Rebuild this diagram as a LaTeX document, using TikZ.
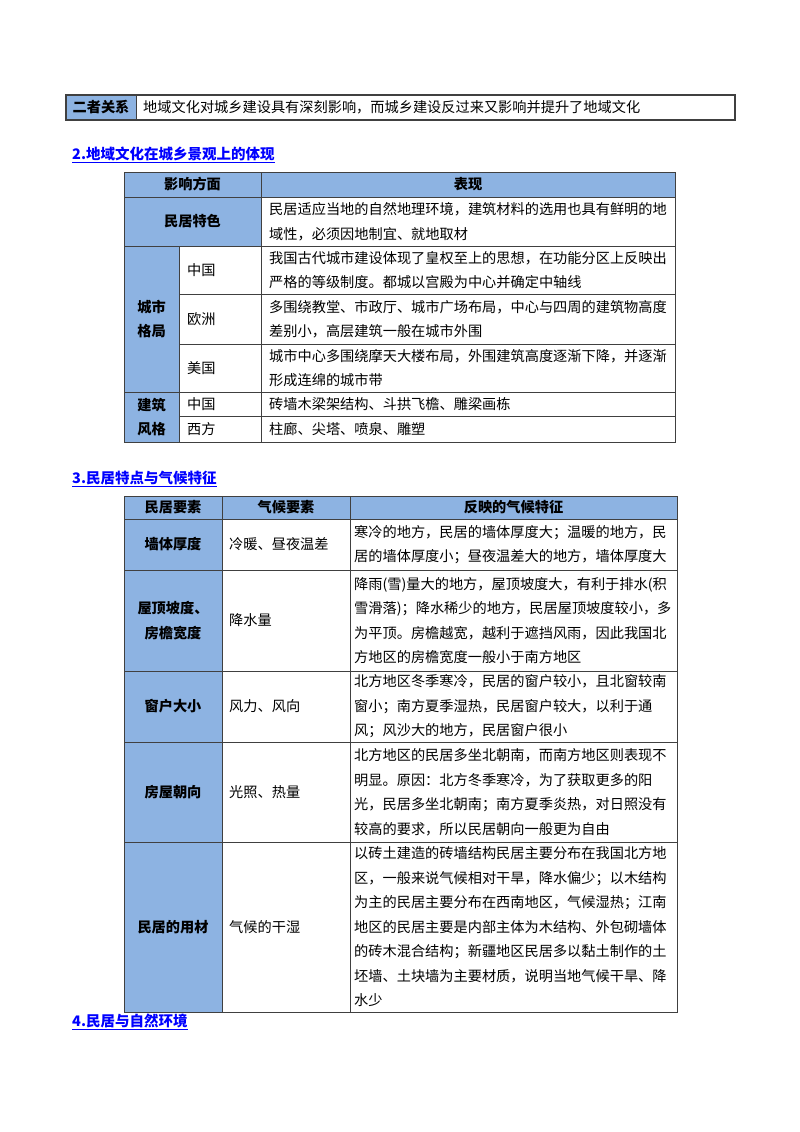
\documentclass[tikz,border=0pt]{standalone}
\usepackage{fontspec}
\setmainfont{Noto Sans CJK SC}
\definecolor{hb}{HTML}{8DB3E2}
\definecolor{ln}{HTML}{0000FF}
\begin{document}
\begin{tikzpicture}[x=1pt,y=-1pt,
  cl/.style={draw=black!75,line width=0.9pt},
  tx/.style={anchor=west,align=left,inner sep=0pt,font=\fontsize{14.2}{24.5}\selectfont},
  hd/.style={align=center,inner sep=0pt,font=\fontsize{14.2}{24.5}\selectfont\bfseries},
  ttl/.style={anchor=west,inner sep=0pt,text=ln,font=\fontsize{14.5}{18}\selectfont\bfseries}]
\useasboundingbox (0,0) rectangle (800,1132);
% table 1
\fill[hb] (66,95) rectangle (136,120);
\draw[cl,line width=1.2pt] (66,95) rectangle (735,120);
\draw[cl] (136,95) -- (136,120);
\node[hd] (t1a) at (101,107.5) {二者关系};
\node[tx] (t1b) at (143,107.5) {地域文化对城乡建设具有深刻影响，而城乡建设反过来又影响并提升了地域文化};
% heading 2
\node[ttl] (h2) at (72,155) {\underline{2.地域文化在城乡景观上的体现}};
% table 2
\fill[hb] (124,172) rectangle (675,197);
\fill[hb] (124,197) rectangle (261,246);
\fill[hb] (124,246) rectangle (179,442);
\draw[cl] (124,172) rectangle (675,442);
\draw[cl] (261,172) -- (261,442);
\draw[cl] (179,246) -- (179,442);
\draw[cl] (124,197) -- (675,197);
\draw[cl] (124,246) -- (675,246);
\draw[cl] (179,294) -- (675,294);
\draw[cl] (179,344) -- (675,344);
\draw[cl] (124,392) -- (675,392);
\draw[cl] (179,416) -- (675,416);
\node[hd] (a1) at (192.5,184.5) {影响方面};
\node[hd] (a2) at (468,184.5) {表现};
\node[hd] (a3) at (192.5,221.5) {民居特色};
\node[tx] (a4) at (269,221.5) {民居适应当地的自然地理环境，建筑材料的选用也具有鲜明的地\\域性，必须因地制宜、就地取材};
\node[hd] (a5) at (151.5,319) {城市\\格局};
\node[tx] (a6) at (187,270) {中国};
\node[tx] (a7) at (269,270) {我国古代城市建设体现了皇权至上的思想，在功能分区上反映出\\严格的等级制度。都城以宫殿为中心并确定中轴线};
\node[tx] (a8) at (187,319) {欧洲};
\node[tx] (a9) at (269,319) {多围绕教堂、市政厅、城市广场布局，中心与四周的建筑物高度\\差别小，高层建筑一般在城市外围};
\node[tx] (a10) at (187,368) {美国};
\node[tx] (a11) at (269,368) {城市中心多围绕摩天大楼布局，外围建筑高度逐渐下降，并逐渐\\形成连绵的城市带};
\node[hd] (a12) at (151.5,417) {建筑\\风格};
\node[tx] (a13) at (187,404) {中国};
\node[tx] (a14) at (269,404) {砖墙木梁架结构、斗拱飞檐、雕梁画栋};
\node[tx] (a15) at (187,429) {西方};
\node[tx] (a16) at (269,429) {柱廊、尖塔、喷泉、雕塑};
% heading 3
\node[ttl] (h3) at (72,479) {\underline{3.民居特点与气候特征}};
% table 3
\fill[hb] (124,496) rectangle (677,519);
\fill[hb] (124,519) rectangle (222,1012);
\draw[cl] (124,496) rectangle (677,1012);
\draw[cl] (222,496) -- (222,1012);
\draw[cl] (350,496) -- (350,1012);
\foreach \yy in {519,570,671,742,842} \draw[cl] (124,\yy) -- (677,\yy);
\node[hd] (b1) at (173,507.5) {民居要素};
\node[hd] (b2) at (286,507.5) {气候要素};
\node[hd] (b3) at (513.5,507.5) {反映的气候特征};
\node[hd] (b4) at (173,544.5) {墙体厚度};
\node[tx] (b5) at (229,544.5) {冷暖、昼夜温差};
\node[tx] (b6) at (354,544.5) {寒冷的地方，民居的墙体厚度大；温暖的地方，民\\居的墙体厚度小；昼夜温差大的地方，墙体厚度大};
\node[hd] (b7) at (173,620.5) {屋顶坡度、\\房檐宽度};
\node[tx] (b8) at (229,620.5) {降水量};
\node[tx] (b9) at (354,620.5) {降雨(雪)量大的地方，屋顶坡度大，有利于排水(积\\雪滑落)；降水稀少的地方，民居屋顶坡度较小，多\\为平顶。房檐越宽，越利于遮挡风雨，因此我国北\\方地区的房檐宽度一般小于南方地区};
\node[hd] (b10) at (173,706.5) {窗户大小};
\node[tx] (b11) at (229,706.5) {风力、风向};
\node[tx] (b12) at (354,706.5) {北方地区冬季寒冷，民居的窗户较小，且北窗较南\\窗小；南方夏季湿热，民居窗户较大，以利于通\\风；风沙大的地方，民居窗户很小};
\node[hd] (b13) at (173,792) {房屋朝向};
\node[tx] (b14) at (229,792) {光照、热量};
\node[tx] (b15) at (354,792) {北方地区的民居多坐北朝南，而南方地区则表现不\\明显。原因：北方冬季寒冷，为了获取更多的阳\\光，民居多坐北朝南；南方夏季炎热，对日照没有\\较高的要求，所以民居朝向一般更为自由};
\node[hd] (b16) at (173,927) {民居的用材};
\node[tx] (b17) at (229,927) {气候的干湿};
\node[tx] (b18) at (354,927) {以砖土建造的砖墙结构民居主要分布在我国北方地\\区，一般来说气候相对干旱，降水偏少；以木结构\\为主的民居主要分布在西南地区，气候湿热；江南\\地区的民居主要是内部主体为木结构、外包砌墙体\\的砖木混合结构；新疆地区民居多以黏土制作的土\\坯墙、土块墙为主要材质，说明当地气候干旱、降\\水少};
% heading 4
\node[ttl] (h4) at (72,1022) {\underline{4.民居与自然环境}};
\end{tikzpicture}
\end{document}
